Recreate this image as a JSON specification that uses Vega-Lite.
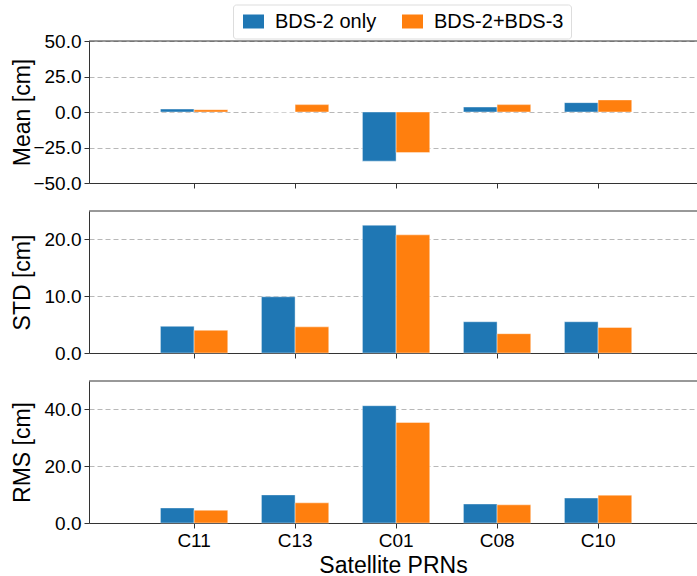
{
  "$schema": "https://vega.github.io/schema/vega-lite/v6.json",
  "autosize": {"type": "pad"},
  "padding": {"left": 11, "top": 4, "right": 0, "bottom": 0},
  "background": "white",
  "datasets": {
    "stats": [
      {"prn": "C11", "sol": "BDS-2 only", "mean": 2.1, "std": 4.7, "rms": 5.3},
      {"prn": "C11", "sol": "BDS-2+BDS-3", "mean": 1.6, "std": 4.0, "rms": 4.5},
      {"prn": "C13", "sol": "BDS-2 only", "mean": 0.0, "std": 9.9, "rms": 9.9},
      {"prn": "C13", "sol": "BDS-2+BDS-3", "mean": 5.2, "std": 4.6, "rms": 7.1},
      {"prn": "C01", "sol": "BDS-2 only", "mean": -34.6, "std": 22.5, "rms": 41.3},
      {"prn": "C01", "sol": "BDS-2+BDS-3", "mean": -28.6, "std": 20.8, "rms": 35.4},
      {"prn": "C08", "sol": "BDS-2 only", "mean": 3.5, "std": 5.5, "rms": 6.7},
      {"prn": "C08", "sol": "BDS-2+BDS-3", "mean": 5.2, "std": 3.4, "rms": 6.4},
      {"prn": "C10", "sol": "BDS-2 only", "mean": 6.6, "std": 5.5, "rms": 8.8},
      {"prn": "C10", "sol": "BDS-2+BDS-3", "mean": 8.5, "std": 4.5, "rms": 9.8}
    ]
  },
  "spacing": 28,
  "bounds": "flush",
  "resolve": {"scale": {"color": "shared", "x": "shared", "y": "independent"}, "legend": {"color": "shared"}},
  "vconcat": [
    {
      "width": 608, "height": 142,
      "layer": [
        {
          "data": {"name": "stats"},
          "mark": {"type": "bar", "stroke": "white", "strokeWidth": 0.6, "strokeOpacity": 0.7},
          "encoding": {
            "x": {"field": "prn", "type": "nominal", "sort": ["C11", "C13", "C01", "C08", "C10"],
                  "scale": {"paddingInner": 0, "paddingOuter": 0.51, "align": 0.53},
                  "axis": {"labels": false, "title": null}},
            "xOffset": {"field": "sol", "type": "nominal", "sort": ["BDS-2 only", "BDS-2+BDS-3"], "scale": {"paddingInner": 0, "paddingOuter": 0.5}},
            "y": {"field": "mean", "type": "quantitative", "scale": {"domain": [-50, 50], "nice": false, "zero": false},
                  "axis": {"title": "Mean [cm]", "values": [-50, -25, 0, 25, 50], "format": ".1f"}},
            "color": {"field": "sol", "type": "nominal", "scale": {"domain": ["BDS-2 only", "BDS-2+BDS-3"], "range": ["#1f77b4", "#ff7f0e"]},
                      "legend": {"title": null, "orient": "none", "legendX": 144, "legendY": -36.5, "direction": "horizontal"}}
          }
        },
        {
          "data": {"values": [{"top": 50}]},
          "mark": {"type": "rule", "color": "#333333", "strokeWidth": 1},
          "encoding": {"y": {"field": "top", "type": "quantitative",
                             "axis": {"title": "Mean [cm]", "values": [-50, -25, 0, 25, 50], "format": ".1f"}}}
        }
      ]
    },
    {
      "width": 608, "height": 142,
      "layer": [
        {
          "data": {"name": "stats"},
          "mark": {"type": "bar", "stroke": "white", "strokeWidth": 0.6, "strokeOpacity": 0.7},
          "encoding": {
            "x": {"field": "prn", "type": "nominal", "sort": ["C11", "C13", "C01", "C08", "C10"],
                  "scale": {"paddingInner": 0, "paddingOuter": 0.51, "align": 0.53},
                  "axis": {"labels": false, "title": null}},
            "xOffset": {"field": "sol", "type": "nominal", "sort": ["BDS-2 only", "BDS-2+BDS-3"], "scale": {"paddingInner": 0, "paddingOuter": 0.5}},
            "y": {"field": "std", "type": "quantitative", "scale": {"domain": [0, 25], "nice": false},
                  "axis": {"title": "STD [cm]", "values": [0, 10, 20], "format": ".1f"}},
            "color": {"field": "sol", "type": "nominal"}
          }
        },
        {
          "data": {"values": [{"top": 25}]},
          "mark": {"type": "rule", "color": "#333333", "strokeWidth": 1},
          "encoding": {"y": {"field": "top", "type": "quantitative",
                             "axis": {"title": "STD [cm]", "values": [0, 10, 20], "format": ".1f"}}}
        }
      ]
    },
    {
      "width": 608, "height": 142,
      "layer": [
        {
          "data": {"name": "stats"},
          "mark": {"type": "bar", "stroke": "white", "strokeWidth": 0.6, "strokeOpacity": 0.7},
          "encoding": {
            "x": {"field": "prn", "type": "nominal", "sort": ["C11", "C13", "C01", "C08", "C10"],
                  "scale": {"paddingInner": 0, "paddingOuter": 0.51, "align": 0.53},
                  "axis": {"title": "Satellite PRNs", "labelAngle": 0}},
            "xOffset": {"field": "sol", "type": "nominal", "sort": ["BDS-2 only", "BDS-2+BDS-3"], "scale": {"paddingInner": 0, "paddingOuter": 0.5}},
            "y": {"field": "rms", "type": "quantitative", "scale": {"domain": [0, 50], "nice": false},
                  "axis": {"title": "RMS [cm]", "values": [0, 20, 40], "format": ".1f"}},
            "color": {"field": "sol", "type": "nominal"}
          }
        },
        {
          "data": {"values": [{"top": 50}]},
          "mark": {"type": "rule", "color": "#333333", "strokeWidth": 1},
          "encoding": {"y": {"field": "top", "type": "quantitative",
                             "axis": {"title": "RMS [cm]", "values": [0, 20, 40], "format": ".1f"}}}
        }
      ]
    }
  ],
  "config": {
    "font": "Liberation Sans",
    "view": {"stroke": null},
    "axis": {
      "labelFontSize": 19, "labelColor": "#000000", "labelFont": "Liberation Sans",
      "titleFontSize": 23, "titleColor": "#000000", "titleFontWeight": "normal", "titleFont": "Liberation Sans",
      "tickColor": "#333333", "tickSize": 5, "domainColor": "#333333", "domainWidth": 1, "labelPadding": 3
    },
    "axisY": {"grid": true, "gridColor": "#b8b8b8", "gridDash": [5, 3], "gridWidth": 1, "titleX": -60, "titleBaseline": "alphabetic", "labelOverlap": false},
    "axisX": {"grid": false, "titlePadding": 4},
    "legend": {
      "labelFontSize": 20, "labelColor": "#000000", "labelFont": "Liberation Sans",
      "symbolType": "M-1,-1H2V1H-1Z", "symbolSize": 196, "symbolStrokeWidth": 0, "symbolOpacity": 1,
      "labelOffset": 15, "columnPadding": 22,
      "strokeColor": "#dddddd", "fillColor": "#ffffff", "cornerRadius": 3, "padding": 7
    }
  }
}
